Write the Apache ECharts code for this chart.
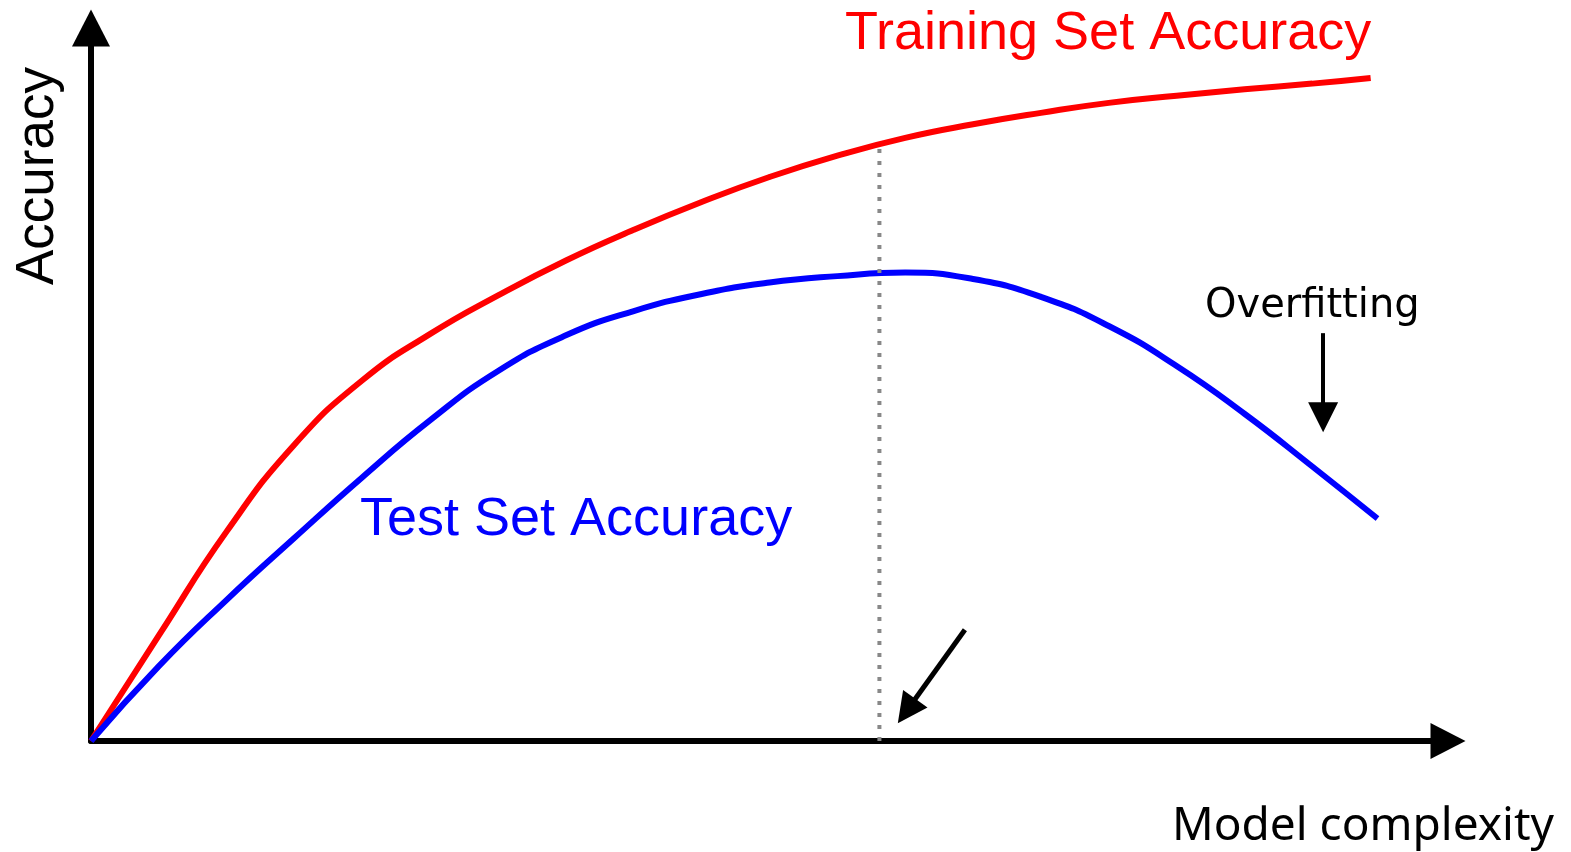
<!DOCTYPE html>
<html>
<head>
<meta charset="utf-8">
<title>Accuracy vs Model complexity</title>
<script src="https://cdn.jsdelivr.net/npm/echarts@6/dist/echarts.min.js"></script>
<style>
  html, body { margin: 0; padding: 0; background: #fff; }
  #chart { width: 1571px; height: 852px; }
</style>
</head>
<body>
<div id="chart"></div>
<script>
// 曲线数据（读图估计，x/y 都是 0~100 的相对值）
var trainX = [0, 5, 10, 15, 20, 25, 30, 35, 40, 45, 50, 55, 60, 65, 70, 75, 80, 85, 90, 94.3];
var trainY = [0, 14.8, 29.4, 41.6, 50.6, 57.1, 62.5, 67.4, 71.7, 75.6, 79.1, 82.1, 84.6, 86.5, 88.1, 89.5, 90.5, 91.4, 92.2, 93.0];

var testX = [0, 5, 10, 15, 20, 25, 30, 35, 40, 45, 50, 55, 60, 65, 70, 75, 80, 85, 90, 94.8];
var testY = [0, 10.5, 19.8, 28.5, 37.0, 45.0, 51.9, 56.9, 60.3, 62.7, 64.3, 65.2, 65.7, 64.8, 62.3, 58.2, 52.6, 45.9, 38.5, 31.2];

// 最佳复杂度处的竖虚线
var bestX = 58.1;
var bestTop = 84.0;

// 标注箭头 [起点, 终点]
var overfitArrow = [[90.8, 57.2], [90.8, 45.4]];
var bestArrow = [[64.4, 15.6], [60.1, 4.2]];

function pairs(xs, ys) {
  var out = [];
  for (var i = 0; i < xs.length; i++) {
    out.push([xs[i], ys[i]]);
  }
  return out;
}

var chart = echarts.init(document.getElementById('chart'));

function makeAxis(arrowSize) {
  return {
    type: 'value',
    min: 0,
    max: 100,
    axisLine: {
      show: true,
      symbol: ['none', 'triangle'],
      symbolSize: arrowSize,
      lineStyle: { color: '#000', width: 6 }
    },
    axisTick: { show: false },
    axisLabel: { show: false },
    splitLine: { show: false }
  };
}

function label(text, x, y, color, font) {
  return {
    type: 'text',
    x: x,
    y: y,
    style: {
      text: text,
      fill: color,
      font: font,
      textAlign: 'left',
      textVerticalAlign: 'middle'
    }
  };
}

var option = {
  backgroundColor: '#fff',
  animation: false,
  grid: {
    left: 91,
    right: 123,
    top: 28,
    bottom: 111
  },
  xAxis: makeAxis([36, 35]),
  yAxis: makeAxis([38, 37]),
  graphic: [
    label('Training Set Accuracy', 845, 34, '#ff0000', '54px "Liberation Sans", Arial, sans-serif'),
    label('Test Set Accuracy', 360, 520, '#0000ff', '54px "Liberation Sans", Arial, sans-serif'),
    label('Overfitting', 1205, 307, '#000', '40px "DejaVu Sans", sans-serif'),
    label('Model complexity', 1172, 827, '#000', '46px "Noto Sans", sans-serif'),
    {
      type: 'text',
      x: 38,
      y: 176,
      rotation: Math.PI / 2,
      style: {
        text: 'Accuracy',
        fill: '#000',
        font: '53px "Liberation Sans", Arial, sans-serif',
        textAlign: 'center',
        textVerticalAlign: 'middle'
      }
    }
  ],
  series: [
    {
      name: 'Training Set Accuracy',
      type: 'line',
      data: pairs(trainX, trainY),
      smooth: 0.5,
      showSymbol: false,
      lineStyle: { color: '#ff0000', width: 6 },
      silent: true
    },
    {
      name: 'Test Set Accuracy',
      type: 'line',
      data: pairs(testX, testY),
      smooth: 0.5,
      showSymbol: false,
      lineStyle: { color: '#0000ff', width: 6 },
      silent: true
    },
    {
      name: 'best',
      type: 'line',
      data: [[bestX, 0], [bestX, bestTop]],
      showSymbol: false,
      lineStyle: { color: '#888', width: 4, type: [4, 8] },
      silent: true,
      z: 5
    },
    {
      name: 'arrows',
      type: 'lines',
      coordinateSystem: 'cartesian2d',
      symbol: ['none', 'triangle'],
      symbolSize: [30, 30],
      lineStyle: { color: '#000', width: 4, opacity: 1, curveness: 0 },
      silent: true,
      data: [
        { coords: overfitArrow },
        { coords: bestArrow, lineStyle: { width: 5 }, symbolSize: [26, 30] }
      ]
    }
  ]
};

chart.setOption(option);
</script>
</body>
</html>
